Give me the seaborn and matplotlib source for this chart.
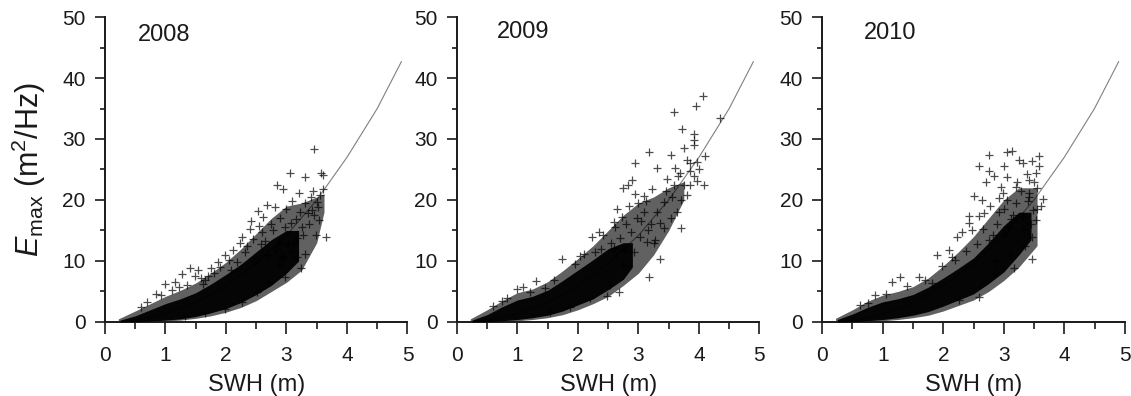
import numpy as np
import pandas as pd
import seaborn as sns
import matplotlib.pyplot as plt
from matplotlib.ticker import MultipleLocator

# fitted curve (same in all panels)
curve_x = [0.25, 0.5, 0.75, 1.0, 1.5, 2.0, 2.5, 3.0, 3.5, 4.0, 4.5, 4.9]
curve_y = [0.06, 0.28, 0.7, 1.3, 3.2, 5.9, 9.6, 14.2, 20.0, 27.0, 35.0, 42.7]

years = ["2008", "2009", "2010"]

# dense core of each cloud: x, lower edge, upper edge
core_x_2008 = [0.25, 0.5, 0.75, 1.0, 1.25, 1.5, 1.75, 2.0, 2.25, 2.5, 2.75, 3.0, 3.2]
core_lo_2008 = [0.0, 0.05, 0.15, 0.3, 0.5, 0.9, 1.5, 2.2, 3.2, 4.5, 6.0, 8.0, 10.0]
core_hi_2008 = [0.3, 1.0, 2.0, 3.0, 3.8, 4.8, 6.2, 7.8, 9.5, 11.5, 13.5, 15.0, 15.0]
# lighter halo around the core
halo_x_2008 = [0.22, 0.5, 0.75, 1.0, 1.25, 1.5, 1.75, 2.0, 2.25, 2.5, 2.75, 3.0, 3.25, 3.5, 3.62]
halo_lo_2008 = [0.0, 0.0, 0.05, 0.15, 0.3, 0.6, 1.0, 1.6, 2.4, 3.5, 5.0, 6.5, 8.5, 13.0, 18.0]
halo_hi_2008 = [0.5, 1.8, 3.0, 4.2, 5.2, 6.4, 8.0, 9.8, 12.0, 14.5, 17.0, 19.0, 19.5, 20.5, 21.0]

core_x_2009 = [0.25, 0.5, 0.75, 1.0, 1.25, 1.5, 1.75, 2.0, 2.25, 2.5, 2.75, 2.9]
core_lo_2009 = [0.0, 0.05, 0.2, 0.4, 0.7, 1.1, 1.8, 2.8, 3.8, 5.3, 7.0, 9.0]
core_hi_2009 = [0.3, 1.2, 2.5, 3.6, 4.2, 5.2, 6.8, 8.5, 10.2, 12.0, 13.0, 13.0]
halo_x_2009 = [0.22, 0.5, 0.75, 1.0, 1.25, 1.5, 1.75, 2.0, 2.25, 2.5, 2.75, 3.0, 3.25, 3.5, 3.75]
halo_lo_2009 = [0.0, 0.0, 0.05, 0.2, 0.4, 0.7, 1.2, 2.0, 3.0, 4.2, 6.0, 8.0, 11.0, 15.0, 20.0]
halo_hi_2009 = [0.5, 2.0, 3.5, 4.8, 5.4, 6.6, 8.4, 10.4, 12.5, 15.0, 17.5, 19.5, 20.5, 22.0, 23.0]

core_x_2010 = [0.25, 0.5, 0.75, 1.0, 1.25, 1.5, 1.75, 2.0, 2.25, 2.5, 2.75, 3.0, 3.25, 3.45]
core_lo_2010 = [0.0, 0.05, 0.2, 0.4, 0.7, 1.1, 1.7, 2.6, 3.6, 4.6, 6.3, 8.2, 11.0, 13.5]
core_hi_2010 = [0.4, 1.3, 2.4, 3.3, 3.8, 4.5, 5.7, 7.2, 8.8, 10.5, 13.0, 15.8, 18.0, 18.0]
halo_x_2010 = [0.22, 0.5, 0.75, 1.0, 1.25, 1.5, 1.75, 2.0, 2.25, 2.5, 2.75, 3.0, 3.25, 3.55]
halo_lo_2010 = [0.0, 0.0, 0.05, 0.2, 0.4, 0.7, 1.1, 1.8, 2.7, 3.6, 5.0, 6.8, 9.0, 12.5]
halo_hi_2010 = [0.6, 2.0, 3.4, 4.4, 5.0, 5.8, 7.2, 9.2, 11.5, 14.0, 17.0, 20.0, 22.0, 22.0]

# scattered points around the core
pts_x_2008 = [3.46, 3.05, 3.31, 3.57, 3.61, 2.84, 2.95, 3.21, 3.44, 3.61, 2.53, 2.68,
              3.66, 3.48, 3.31, 3.24, 2.98, 2.39, 2.42, 2.23, 1.98, 1.40, 1.53, 1.28,
              1.48, 1.00, 0.85, 1.16, 1.65, 1.76, 1.86, 2.12, 2.26, 2.62, 2.81, 3.09,
              3.31, 3.42, 3.53, 3.17, 3.09, 2.87, 2.70, 2.51, 2.26, 1.98, 1.65, 1.32,
              2.90, 3.00, 3.15, 3.35, 3.50, 2.75, 2.60, 3.25, 3.40, 2.95, 3.55, 0.60,
              0.70, 0.92, 1.10, 1.22, 1.35, 1.58, 1.70, 1.90, 2.05, 2.35, 2.45,
              2.55, 2.65, 2.78, 2.88, 2.98, 3.08, 3.12, 3.22, 3.28, 3.38, 3.45, 3.52,
              2.70, 2.82, 2.92, 3.02, 3.18, 2.48, 2.58, 2.32, 2.18, 2.08, 1.80, 1.62]
pts_y_2008 = [28.3, 24.4, 23.7, 24.4, 24.1, 22.5, 21.8, 21.2, 21.4, 21.8, 18.2, 19.2,
              13.9, 14.3, 11.1, 8.9, 7.3, 15.2, 16.5, 12.9, 11.0, 8.9, 8.5, 7.8,
              7.5, 6.2, 4.6, 6.5, 6.9, 8.8, 9.9, 11.8, 14.0, 17.2, 18.9, 19.9,
              19.5, 18.4, 16.7, 13.7, 11.5, 9.3, 6.6, 4.9, 3.3, 2.2, 1.4, 0.9,
              17.0, 18.5, 16.8, 17.8, 19.6, 16.0, 14.8, 15.5, 20.5, 10.5, 20.8, 2.4,
              3.2, 4.4, 5.2, 5.8, 6.0, 7.2, 7.6, 9.0, 10.2, 12.4, 13.6,
              15.8, 13.2, 15.0, 13.0, 15.5, 16.2, 13.0, 18.0, 14.2, 16.0, 17.5, 18.8,
              11.0, 12.0, 10.8, 12.8, 10.6, 10.0, 12.8, 11.5, 9.8, 8.6, 8.0, 6.2]

pts_x_2009 = [4.06, 3.59, 3.95, 3.72, 3.91, 3.91, 3.92, 3.18, 2.95, 3.53, 3.75, 3.97,
              4.10, 3.31, 3.61, 3.86, 3.97, 4.08, 3.80, 3.70, 3.53, 3.28, 3.36, 3.17,
              2.68, 2.48, 2.83, 2.75, 2.89, 2.59, 2.42, 2.23, 2.34, 2.04, 1.74, 1.31,
              1.10, 0.99, 0.83, 3.09, 3.09, 3.42, 2.98, 2.87, 3.31, 3.64, 3.86, 3.58,
              3.42, 3.14, 2.92, 2.75, 2.53, 2.20, 1.87, 1.54, 4.35, 3.65, 3.45, 3.00,
              3.20, 2.65, 2.55, 3.80, 3.70, 0.60, 0.75, 1.20, 1.45, 1.60, 1.95, 2.10,
              2.62, 2.72, 2.80, 2.85, 2.95, 3.05, 3.12, 3.22, 3.35, 3.48, 3.55, 3.68,
              3.75, 3.85, 3.92, 4.00, 2.60, 2.70, 2.78, 3.02, 3.15, 3.25, 2.38, 2.28]
pts_y_2009 = [37.0, 34.5, 35.4, 31.6, 30.9, 29.8, 29.0, 27.8, 26.1, 27.3, 28.5, 26.3,
              27.2, 25.3, 25.2, 24.7, 23.1, 22.5, 20.8, 15.4, 17.0, 13.4, 10.4, 7.3,
              4.9, 4.3, 22.4, 22.0, 23.3, 16.4, 14.2, 14.0, 14.8, 10.8, 10.3, 6.7,
              5.7, 5.4, 4.0, 20.7, 18.1, 19.7, 17.0, 14.8, 18.1, 18.1, 22.5, 22.5,
              15.4, 13.1, 11.5, 9.4, 6.1, 3.9, 2.5, 1.7, 33.5, 24.0, 21.5, 19.5,
              16.0, 18.5, 13.0, 26.5, 20.0, 2.6, 3.4, 4.9, 5.6, 6.8, 9.5, 11.2,
              15.5, 17.2, 16.0, 19.0, 21.0, 16.5, 19.8, 21.8, 16.2, 23.5, 20.5, 24.5,
              22.5, 26.0, 24.0, 25.0, 12.2, 13.8, 11.8, 14.0, 15.0, 13.0, 12.0, 11.5]

pts_x_2010 = [2.75, 3.06, 3.13, 3.25, 3.31, 3.47, 3.58, 2.59, 3.00, 2.75, 2.84, 2.70,
              3.06, 3.42, 3.53, 2.51, 2.64, 2.92, 3.20, 3.48, 3.53, 3.47, 3.47, 3.17,
              2.86, 2.59, 2.26, 2.42, 2.42, 2.31, 2.23, 2.09, 1.90, 1.60, 1.29, 1.16,
              0.88, 0.63, 2.75, 3.09, 3.31, 3.42, 3.20, 2.98, 2.59, 1.98, 1.82, 3.65,
              3.35, 3.10, 2.85, 2.65, 3.55, 3.40, 3.00, 0.75, 1.05, 1.40, 1.70, 2.15,
              2.68, 2.78, 2.88, 2.95, 3.05, 3.15, 3.22, 3.28, 3.38, 3.45, 3.50, 3.58,
              3.62, 2.55, 2.48, 2.82, 2.92, 3.02, 3.12, 3.32, 3.42, 3.55, 2.38, 2.20]
pts_y_2010 = [27.4, 27.8, 28.1, 26.5, 26.1, 26.4, 27.2, 25.5, 25.5, 24.8, 23.9, 23.0,
              23.8, 23.3, 24.4, 20.7, 20.0, 20.3, 19.5, 18.4, 16.7, 14.0, 10.3, 8.8,
              8.0, 4.1, 3.6, 17.3, 16.2, 14.8, 14.0, 11.8, 11.0, 7.4, 7.4, 6.6,
              4.4, 2.8, 13.4, 15.6, 17.3, 21.1, 22.2, 21.1, 17.3, 9.1, 6.4, 20.2,
              12.5, 11.0, 10.0, 15.2, 22.0, 19.8, 18.5, 3.1, 4.6, 5.9, 6.9, 10.6,
              17.8, 19.0, 16.0, 22.2, 20.0, 17.5, 23.0, 21.5, 24.2, 16.0, 23.0, 25.5,
              19.0, 12.8, 15.0, 14.2, 18.0, 14.5, 16.8, 15.2, 20.5, 18.5, 11.6, 10.2]

cores = [(core_x_2008, core_lo_2008, core_hi_2008),
         (core_x_2009, core_lo_2009, core_hi_2009),
         (core_x_2010, core_lo_2010, core_hi_2010)]
halos = [(halo_x_2008, halo_lo_2008, halo_hi_2008),
         (halo_x_2009, halo_lo_2009, halo_hi_2009),
         (halo_x_2010, halo_lo_2010, halo_hi_2010)]
points = [(pts_x_2008, pts_y_2008), (pts_x_2009, pts_y_2009), (pts_x_2010, pts_y_2010)]
year_pos = [(0.55, 47.0), (0.66, 47.5), (0.68, 47.4)]

sns.set_style("ticks")
plt.rcParams['font.family'] = ['Liberation Sans', 'DejaVu Sans']
plt.rcParams['mathtext.fontset'] = 'custom'
plt.rcParams['mathtext.it'] = 'Liberation Sans:italic'
plt.rcParams['mathtext.rm'] = 'Liberation Sans'

fig = plt.figure(figsize=(11.31, 3.96), dpi=100)
lefts = [0.0928, 0.404, 0.727]
curve_df = pd.DataFrame({'SWH': curve_x, 'E': curve_y})

for i, year in enumerate(years):
    ax = fig.add_axes([lefts[i], 0.187, 0.2675, 0.770])
    sns.lineplot(data=curve_df, x='SWH', y='E', color='#808080', linewidth=0.8,
                 ax=ax, zorder=1)
    hx, hlo, hhi = halos[i]
    ax.fill_between(hx, hlo, hhi, color='black', alpha=0.62, linewidth=0, zorder=2)
    cx, lo, hi = cores[i]
    ax.fill_between(cx, lo, hi, color='black', alpha=0.95, linewidth=0, zorder=3)
    df = pd.DataFrame({'SWH': points[i][0], 'E': points[i][1]})
    sns.scatterplot(data=df, x='SWH', y='E', marker='+', color='black', s=30,
                    linewidth=0.9, alpha=0.7, ax=ax, zorder=4)

    ax.set_xlim(0, 5)
    ax.set_ylim(0, 50)
    ax.xaxis.set_major_locator(MultipleLocator(1))
    ax.xaxis.set_minor_locator(MultipleLocator(0.5))
    ax.yaxis.set_major_locator(MultipleLocator(10))
    ax.yaxis.set_minor_locator(MultipleLocator(5))
    ax.tick_params(which='both', width=1.2, labelsize=15, direction='out',
                   colors='#1a1a1a')
    ax.tick_params(axis='x', which='major', length=8.5, pad=9)
    ax.tick_params(axis='x', which='minor', length=5)
    ax.tick_params(axis='y', which='major', length=7, pad=7)
    ax.tick_params(axis='y', which='minor', length=3.6)
    for s in ['left', 'bottom']:
        ax.spines[s].set_linewidth(1.4)
        ax.spines[s].set_color('#1a1a1a')
    sns.despine(ax=ax)
    ax.set_xlabel('SWH (m)', fontsize=17, labelpad=6, color='#1a1a1a')
    if i == 0:
        ax.set_ylabel(r'$E_{\mathrm{max}}$ (m$^2$/Hz)', fontsize=22, labelpad=10,
                      color='#1a1a1a')
    else:
        ax.set_ylabel('')
    ax.text(year_pos[i][0], year_pos[i][1], year, fontsize=17, va='center',
            ha='left', color='#1a1a1a')

plt.savefig('out.png', dpi=100)
